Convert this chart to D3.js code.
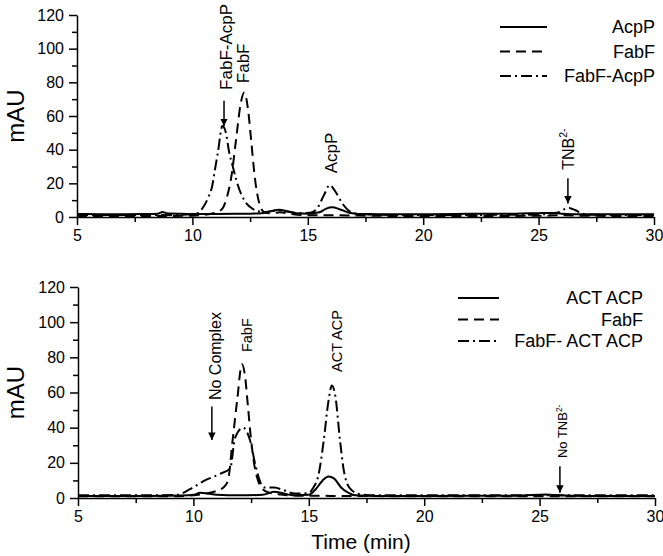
<html>
<script src="https://d3js.org/d3.v7.min.js"></script>
<style>
body { margin: 0; background: white; }
text { font-family: "Liberation Sans", Arial, sans-serif; fill: black; }
.axis path, .axis line { stroke: black; stroke-width: 1.5; }
.axis text { font-size: 16px; font-family: "Liberation Sans", Arial, sans-serif; }
</style>
<body>
<svg width="663" height="556"></svg>
<script>
// top panel: FabF / AcpP
var acpP = [[5,1.8],[6,1.7],[7,1.7],[8,1.8],[8.5,2],[8.7,3],[8.9,2.2],[9.5,1.9],[10,1.8],[11,1.8],[12,1.9],[13,2.2],[13.4,3.5],[13.75,4.3],[14.1,3.5],[14.5,2.2],[15,2],[15.5,2.8],[15.8,5],[16.05,5.8],[16.4,4.5],[16.8,2.5],[17.2,1.8],[18,1.7],[20,1.7],[22,1.9],[24,2],[25,2.3],[25.6,2.4],[26,2],[27,1.7],[28,1.7],[30,1.7]];
var fabF1 = [[5,0.6],[8,0.6],[10,0.8],[10.6,1.5],[11,2.5],[11.3,5],[11.5,12],[11.7,25],[11.9,47],[12.1,68],[12.25,74],[12.4,65],[12.55,45],[12.7,24],[12.9,8],[13.1,3],[13.4,2.2],[13.8,2.8],[14.2,2],[15,1],[16,1],[18,0.7],[20,0.6],[25,0.7],[26,1],[27,0.7],[30,0.6]];
var complex1 = [[5,1.2],[8,1.2],[9.5,1.3],[10,1.6],[10.25,2.5],[10.45,5.5],[10.7,12],[10.85,18],[11.0,30],[11.1,38],[11.3,54],[11.45,50],[11.6,38],[11.75,30],[11.9,22],[12.1,14],[12.35,8],[12.6,5],[12.8,3.5],[13.2,3],[13.7,4],[14.2,3],[14.6,2.3],[15.1,2.5],[15.4,5],[15.7,13],[15.95,19],[16.2,15],[16.5,8],[16.8,3.5],[17.2,1.8],[18,1.3],[20,1.2],[24,1.3],[25,1.5],[25.8,2.5],[26.1,4.5],[26.3,5.3],[26.6,4],[26.9,2],[27.3,1.3],[30,1.2]];

// bottom panel: FabF / ACT ACP
var actACP = [[5,1.2],[8,1.2],[9.5,1.4],[10,1.8],[10.3,3],[10.6,2.6],[11,1.8],[12,1.5],[13,1.8],[13.5,3.5],[13.8,3],[14.3,1.6],[15,1.8],[15.3,5],[15.6,10],[15.85,12.2],[16.1,11],[16.4,6],[16.7,3],[17,1.5],[18,1.2],[20,1.2],[24,1.3],[25.3,2],[25.8,1.5],[27,1.2],[30,1.2]];
var fabF2 = [[5,1],[9,1],[10,1.5],[10.5,2.5],[11,4],[11.3,6],[11.5,10],[11.7,33],[11.9,56],[12.1,76],[12.25,68],[12.35,54],[12.5,33],[12.65,18],[12.8,10],[13,5],[13.3,3],[13.8,2],[14.5,1.3],[16,1.2],[20,1],[30,1]];
var complex2 = [[5,1.5],[8,1.5],[9.3,1.8],[9.85,5],[10.5,10],[11.2,14],[11.6,17],[11.8,34],[12.15,40],[12.45,33],[12.7,18],[12.9,9],[13.1,6],[13.5,6],[13.9,4.5],[14.4,2.5],[15,2.8],[15.2,6],[15.4,12],[15.65,33],[15.85,55],[16.0,64],[16.15,58],[16.35,33],[16.5,17],[16.65,8.5],[16.9,4],[17.3,2],[18,1.5],[30,1.5]];

var xTicks = [5,10,15,20,25,30];
var yTicks = [0,20,40,60,80,100,120];
var legend1 = ["AcpP","FabF","FabF-AcpP"];
var legend2 = ["ACT ACP","FabF","FabF- ACT ACP"];

// annotations: label, text x, text base y, arrow x, arrow tail y, arrow tip y (data units)
var notes1 = [
  {t:"FabF-AcpP", x:11.46, ty:75.5, fs:17, ax:11.37, a1:69, a2:54},
  {t:"FabF", x:12.2, ty:79.5, fs:17},
  {t:"AcpP", x:16.0, ty:26, fs:17},
  {t:"TNB", sup:"2-", x:26.27, ty:28, fs:16, ax:26.27, a1:23, a2:8}
];
var notes2 = [
  {t:"No Complex", x:10.94, ty:55.7, fs:16, ax:10.8, a1:52, a2:33},
  {t:"FabF", x:12.32, ty:83, fs:14.5},
  {t:"ACT ACP", x:16.2, ty:71.7, fs:14.5},
  {t:"No TNB", sup:"2-", x:26.0, ty:22.7, fs:13, ax:25.88, a1:18, a2:3}
];

var dashes = ["none", "10,6", "11,4,2,4"];
var svg = d3.select("svg");

svg.append("defs").append("marker")
  .attr("id","arr").attr("viewBox","0 0 10 10").attr("refX",10).attr("refY",5)
  .attr("markerWidth",5).attr("markerHeight",6).attr("orient","auto")
  .append("path").attr("d","M0,0 L10,5 L0,10 z").attr("fill","black");

function panel(series, legend, notes, x0, x1, y0, y1, lg) {
  var x = d3.scaleLinear().domain([5,30]).range([x0,x1]);
  var y = d3.scaleLinear().domain([0,120]).range([y0,y1]);
  var g = svg.append("g");

  // minor ticks
  g.append("g").attr("class","axis").attr("transform","translate(0,"+y0+")")
    .call(d3.axisBottom(x).tickValues([7.5,12.5,17.5,22.5,27.5]).tickSize(5).tickFormat(""))
    .select(".domain").remove();
  g.append("g").attr("class","axis").attr("transform","translate("+x0+",0)")
    .call(d3.axisLeft(y).tickValues([10,30,50,70,90,110]).tickSize(5).tickFormat(""))
    .select(".domain").remove();
  g.append("g").attr("class","axis").attr("transform","translate(0,"+y0+")")
    .call(d3.axisBottom(x).tickValues(xTicks).tickSize(8).tickSizeOuter(0).tickPadding(5));
  g.append("g").attr("class","axis").attr("transform","translate("+x0+",0)")
    .call(d3.axisLeft(y).tickValues(yTicks).tickSize(8).tickSizeOuter(0).tickPadding(5));

  var line = d3.line().x(d => x(d[0])).y(d => y(d[1])).curve(d3.curveMonotoneX);
  series.forEach(function(s, i) {
    g.append("path").datum(s).attr("d", line)
      .attr("fill","none").attr("stroke","black").attr("stroke-width",2)
      .attr("stroke-dasharray", dashes[i]);
  });

  // legend
  legend.forEach(function(name, i) {
    var yy = lg.y + i*lg.dy;
    g.append("line").attr("x1",lg.l1).attr("x2",lg.l2).attr("y1",yy).attr("y2",yy)
      .attr("stroke","black").attr("stroke-width",2).attr("stroke-dasharray",dashes[i]);
    g.append("text").attr("x",lg.tx).attr("y",yy).attr("dy","0.36em")
      .attr("text-anchor","end").style("font-size",lg.fs+"px").text(name);
  });

  // annotations
  notes.forEach(function(n) {
    var px = x(n.x) + 0.36*n.fs;
    var t = g.append("text").attr("transform","translate("+px+","+y(n.ty)+") rotate(-90)")
      .style("font-size",n.fs+"px").text(n.t);
    if (n.sup) t.append("tspan").attr("dy","-0.6em").style("font-size","0.65em").text(n.sup);
    if (n.a1 != null) {
      g.append("line").attr("x1",x(n.ax)).attr("x2",x(n.ax)).attr("y1",y(n.a1)).attr("y2",y(n.a2))
        .attr("stroke","black").attr("stroke-width",1.5).attr("marker-end","url(#arr)");
    }
  });

  svg.append("text").attr("transform","translate(24,"+((y0+y1)/2)+") rotate(-90)")
    .attr("text-anchor","middle").style("font-size","24px").text("mAU");
}

panel([acpP, fabF1, complex1], legend1, notes1, 77, 654, 217, 15,
  {y:27, dy:24.5, l1:500, l2:547, tx:655, fs:18});
panel([actACP, fabF2, complex2], legend2, notes2, 78, 655, 498, 287,
  {y:298, dy:21.5, l1:458, l2:499, tx:643, fs:18});

svg.append("text").attr("x",361).attr("y",549).attr("text-anchor","middle")
  .style("font-size","21px").text("Time (min)");
</script>
</body>
</html>
